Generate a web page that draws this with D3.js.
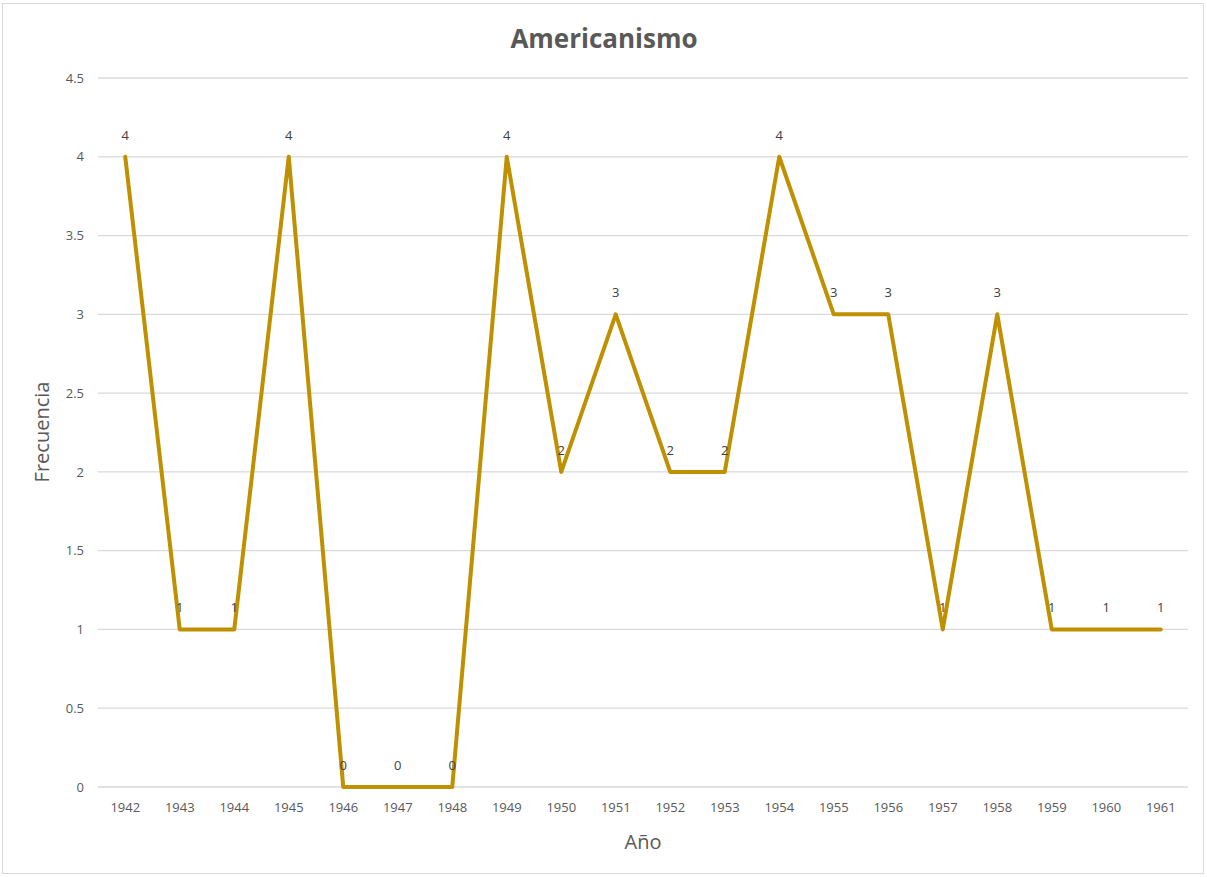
<!DOCTYPE html>
<html>
<head>
    <title>Americanismo</title>
    <script src="https://d3js.org/d3.v7.min.js"></script>
    <style>
        body { margin: 0; background: #fff; }
        text { font-family: "Open Sans", "Liberation Sans", sans-serif; }
    </style>
</head>
<body>
    <script>
        var years = ["1942", "1943", "1944", "1945", "1946", "1947", "1948", "1949", "1950", "1951",
                     "1952", "1953", "1954", "1955", "1956", "1957", "1958", "1959", "1960", "1961"];
        var frecuencia = [4, 1, 1, 4, 0, 0, 0, 4, 2, 3, 2, 2, 4, 3, 3, 1, 3, 1, 1, 1];
        var yTicks = [0, 0.5, 1, 1.5, 2, 2.5, 3, 3.5, 4, 4.5];

        var width = 1207, height = 877;
        var plot = {left: 98, right: 1188, top: 78, bottom: 787};

        var svg = d3.select("body")
            .append("svg")
            .attr("width", width)
            .attr("height", height);

        // chart frame
        svg.append("rect")
            .attr("x", 2.5).attr("y", 3.5)
            .attr("width", 1201).attr("height", 870)
            .attr("fill", "#fff")
            .attr("stroke", "#d9d9d9");

        var x = d3.scaleBand()
            .domain(years)
            .range([plot.left, plot.right]);

        var y = d3.scaleLinear()
            .domain([0, 4.5])
            .range([plot.bottom, plot.top]);

        // gridlines
        svg.append("g")
            .selectAll("line")
            .data(yTicks)
            .join("line")
            .attr("x1", plot.left).attr("x2", plot.right)
            .attr("y1", function(d) { return y(d); })
            .attr("y2", function(d) { return y(d); })
            .attr("stroke", "#d9d9d9")
            .attr("stroke-width", 1.3);

        // y axis labels
        var yAxis = svg.append("g")
            .attr("transform", "translate(" + plot.left + ",0)")
            .call(d3.axisLeft(y).tickValues(yTicks).tickSize(0).tickPadding(14).tickFormat(function(d) { return d; }));
        yAxis.select(".domain").remove();
        yAxis.selectAll("text").attr("fill", "#595959").style("font-size", "13px");

        // x axis labels
        var xAxis = svg.append("g")
            .attr("transform", "translate(0," + plot.bottom + ")")
            .call(d3.axisBottom(x).tickSize(0).tickPadding(16));
        xAxis.select(".domain").remove();
        xAxis.selectAll("text").attr("fill", "#595959").style("font-size", "13px");

        var line = d3.line()
            .x(function(d, i) { return x(years[i]) + x.bandwidth() / 2; })
            .y(function(d) { return y(d); });

        svg.append("path")
            .datum(frecuencia)
            .attr("d", line)
            .attr("fill", "none")
            .attr("stroke", "#bf9000")
            .attr("stroke-width", 4)
            .attr("stroke-linejoin", "round")
            .attr("stroke-linecap", "round");

        // data labels
        svg.append("g")
            .selectAll("text")
            .data(frecuencia)
            .join("text")
            .attr("x", function(d, i) { return x(years[i]) + x.bandwidth() / 2; })
            .attr("y", function(d) { return y(d) - 17; })
            .attr("text-anchor", "middle")
            .attr("fill", "#404040")
            .style("font-size", "13px")
            .text(function(d) { return d; });

        // title
        svg.append("text")
            .attr("x", 604).attr("y", 48)
            .attr("text-anchor", "middle")
            .attr("fill", "#595959")
            .style("font-size", "26px")
            .style("font-weight", "bold")
            .text("Americanismo");

        // axis titles
        svg.append("text")
            .attr("x", 643).attr("y", 849)
            .attr("text-anchor", "middle")
            .attr("fill", "#595959")
            .style("font-size", "20px")
            .text("Año");

        svg.append("text")
            .attr("transform", "translate(49,432) rotate(-90)")
            .attr("text-anchor", "middle")
            .attr("fill", "#595959")
            .style("font-size", "20px")
            .text("Frecuencia");
    </script>
</body>
</html>
